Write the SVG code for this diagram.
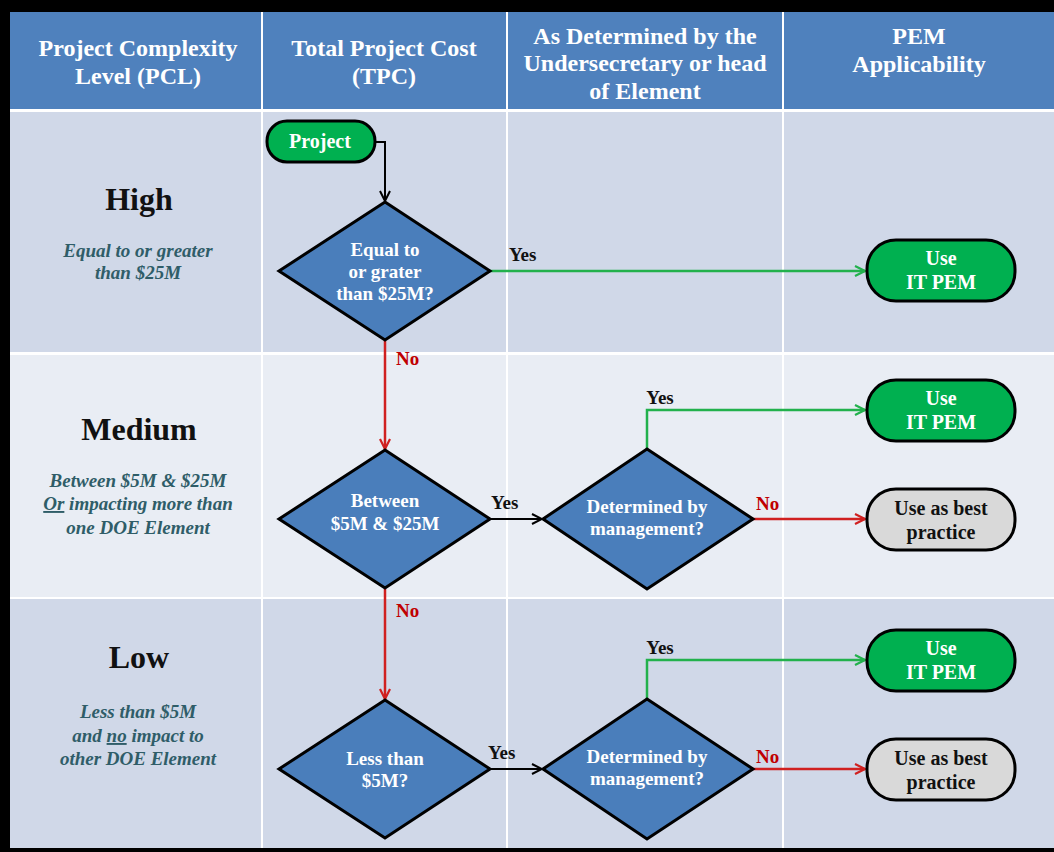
<svg xmlns="http://www.w3.org/2000/svg" width="1054" height="852" viewBox="0 0 1054 852">
<defs>
<style>
.hdr{font-family:"Liberation Serif",serif;font-weight:bold;font-size:24px;fill:#fff;text-anchor:middle}
.lvl{font-family:"Liberation Serif",serif;font-weight:bold;font-size:32px;fill:#111;text-anchor:middle}
.sub{font-family:"Liberation Serif",serif;font-weight:bold;font-style:italic;font-size:19px;fill:#2f5d68;text-anchor:middle}
.dtx{font-family:"Liberation Serif",serif;font-weight:bold;font-size:19px;fill:#fff;text-anchor:middle}
.ptx{font-family:"Liberation Serif",serif;font-weight:bold;font-size:20px;fill:#fff;text-anchor:middle}
.gtx{font-family:"Liberation Serif",serif;font-weight:bold;font-size:20px;fill:#111;text-anchor:middle}
.dia{fill:#4a7ebb;stroke:#000;stroke-width:3;stroke-linejoin:miter}
.pg{fill:#00b050;stroke:#000;stroke-width:3}
.pgr{fill:#d9d9d9;stroke:#000;stroke-width:3}
.yes{font-family:"Liberation Serif",serif;font-weight:bold;font-size:19px;fill:#111}
.no{font-family:"Liberation Serif",serif;font-weight:bold;font-size:19px;fill:#c00000}
.cb{fill:none;stroke:#000;stroke-width:2;marker-end:url(#ab)}
.cg{fill:none;stroke:#22b14c;stroke-width:2.5;marker-end:url(#ag)}
.cr{fill:none;stroke:#d02020;stroke-width:2.5;marker-end:url(#ar)}
</style>
<marker id="ab" viewBox="0 0 12 12" refX="11" refY="6" markerWidth="12" markerHeight="12" markerUnits="userSpaceOnUse" orient="auto"><path d="M1,1 L11,6 L1,11" fill="none" stroke="#000" stroke-width="2"/></marker>
<marker id="ag" viewBox="0 0 12 12" refX="11" refY="6" markerWidth="12" markerHeight="12" markerUnits="userSpaceOnUse" orient="auto"><path d="M1,1 L11,6 L1,11" fill="none" stroke="#22b14c" stroke-width="2.2"/></marker>
<marker id="ar" viewBox="0 0 12 12" refX="11" refY="6" markerWidth="12" markerHeight="12" markerUnits="userSpaceOnUse" orient="auto"><path d="M1,1 L11,6 L1,11" fill="none" stroke="#d02020" stroke-width="2.2"/></marker>
</defs>

<g id="background">
<rect x="0" y="0" width="1054" height="852" fill="#000"/>
<rect x="10" y="12" width="1044" height="836" fill="#fff"/>
<rect x="10" y="12" width="1044" height="97" fill="#4f81bd"/>
<rect x="10" y="112" width="1044" height="240" fill="#d0d8e8"/>
<rect x="10" y="355" width="1044" height="242" fill="#e9edf4"/>
<rect x="10" y="599" width="1044" height="249" fill="#d0d8e8"/>
<g stroke="#fff" stroke-width="2">
<line x1="262" y1="12" x2="262" y2="848"/>
<line x1="507" y1="12" x2="507" y2="848"/>
<line x1="783" y1="12" x2="783" y2="848"/>
</g>
</g>

<g id="header">
<text class="hdr" x="138" y="56">Project Complexity</text>
<text class="hdr" x="138" y="84">Level (PCL)</text>
<text class="hdr" x="384" y="56">Total Project Cost</text>
<text class="hdr" x="384" y="84">(TPC)</text>
<text class="hdr" x="645" y="44">As Determined by the</text>
<text class="hdr" x="645" y="71">Undersecretary  or head</text>
<text class="hdr" x="645" y="99">of Element</text>
<text class="hdr" x="919" y="44">PEM</text>
<text class="hdr" x="919" y="72">Applicability</text>
</g>

<g id="level-high">
<text class="lvl" x="139" y="210">High</text>
<text class="sub" x="138" y="257">Equal to or greater</text>
<text class="sub" x="138" y="279">than $25M</text>
</g>
<g id="level-medium">
<text class="lvl" x="139" y="440">Medium</text>
<text class="sub" x="138" y="487">Between  $5M &amp; $25M</text>
<text class="sub" x="138" y="510"><tspan text-decoration="underline">Or</tspan> impacting more than</text>
<text class="sub" x="138" y="534">one DOE Element</text>
</g>
<g id="level-low">
<text class="lvl" x="139" y="668">Low</text>
<text class="sub" x="138" y="718">Less than $5M</text>
<text class="sub" x="138" y="742">and <tspan text-decoration="underline">no</tspan> impact to</text>
<text class="sub" x="138" y="765">other DOE Element</text>
</g>

<g id="connectors">
<path class="cb" d="M375,142 H385 V201"/>
<path class="cg" d="M490,271 H865"/>
<path class="cr" d="M385,341 V449"/>
<path class="cb" d="M490,519 H542"/>
<path class="cg" d="M647,449 V410 H865"/>
<path class="cr" d="M753,519 H865"/>
<path class="cr" d="M385,589 V699"/>
<path class="cb" d="M490,769 H542"/>
<path class="cg" d="M647,699 V660 H865"/>
<path class="cr" d="M753,769 H865"/>
<text class="yes" x="509" y="261">Yes</text>
<text class="no" x="396" y="365">No</text>
<text class="yes" x="491" y="509">Yes</text>
<text class="yes" x="660" y="404" text-anchor="middle">Yes</text>
<text class="no" x="756" y="510">No</text>
<text class="no" x="396" y="617">No</text>
<text class="yes" x="488" y="759">Yes</text>
<text class="yes" x="660" y="654" text-anchor="middle">Yes</text>
<text class="no" x="756" y="763">No</text>
</g>

<g id="project">
<rect class="pg" x="267" y="121" width="108" height="41" rx="20"/>
<text class="ptx" x="320" y="148">Project</text>
</g>

<g id="d-high">
<polygon class="dia" points="385,202 490,271 385,340 279,271"/>
<text class="dtx" x="385" y="256">Equal to</text>
<text class="dtx" x="385" y="278">or grater</text>
<text class="dtx" x="385" y="300">than $25M?</text>
</g>
<g id="d-medium">
<polygon class="dia" points="385,450 490,519 385,588 279,519"/>
<text class="dtx" x="385" y="507">Between</text>
<text class="dtx" x="385" y="530">$5M &amp; $25M</text>
</g>
<g id="d-low">
<polygon class="dia" points="385,700 490,769 385,838 279,769"/>
<text class="dtx" x="385" y="765">Less than</text>
<text class="dtx" x="385" y="787">$5M?</text>
</g>
<g id="d-mgmt-medium">
<polygon class="dia" points="647,449 753,519 647,589 543,519"/>
<text class="dtx" x="647" y="513">Determined by</text>
<text class="dtx" x="647" y="535">management?</text>
</g>
<g id="d-mgmt-low">
<polygon class="dia" points="647,699 753,769 647,839 543,769"/>
<text class="dtx" x="647" y="763">Determined by</text>
<text class="dtx" x="647" y="785">management?</text>
</g>

<g id="pem-high">
<rect class="pg" x="867" y="240" width="148" height="61" rx="29"/>
<text class="ptx" x="941" y="265">Use</text>
<text class="ptx" x="941" y="289">IT PEM</text>
</g>
<g id="pem-medium">
<rect class="pg" x="867" y="380" width="148" height="61" rx="29"/>
<text class="ptx" x="941" y="405">Use</text>
<text class="ptx" x="941" y="429">IT PEM</text>
</g>
<g id="best-medium">
<rect class="pgr" x="867" y="489" width="148" height="61" rx="29"/>
<text class="gtx" x="941" y="515">Use as best</text>
<text class="gtx" x="941" y="539">practice</text>
</g>
<g id="pem-low">
<rect class="pg" x="867" y="630" width="148" height="61" rx="29"/>
<text class="ptx" x="941" y="655">Use</text>
<text class="ptx" x="941" y="679">IT PEM</text>
</g>
<g id="best-low">
<rect class="pgr" x="867" y="739" width="148" height="61" rx="29"/>
<text class="gtx" x="941" y="765">Use as best</text>
<text class="gtx" x="941" y="789">practice</text>
</g>
</svg>
